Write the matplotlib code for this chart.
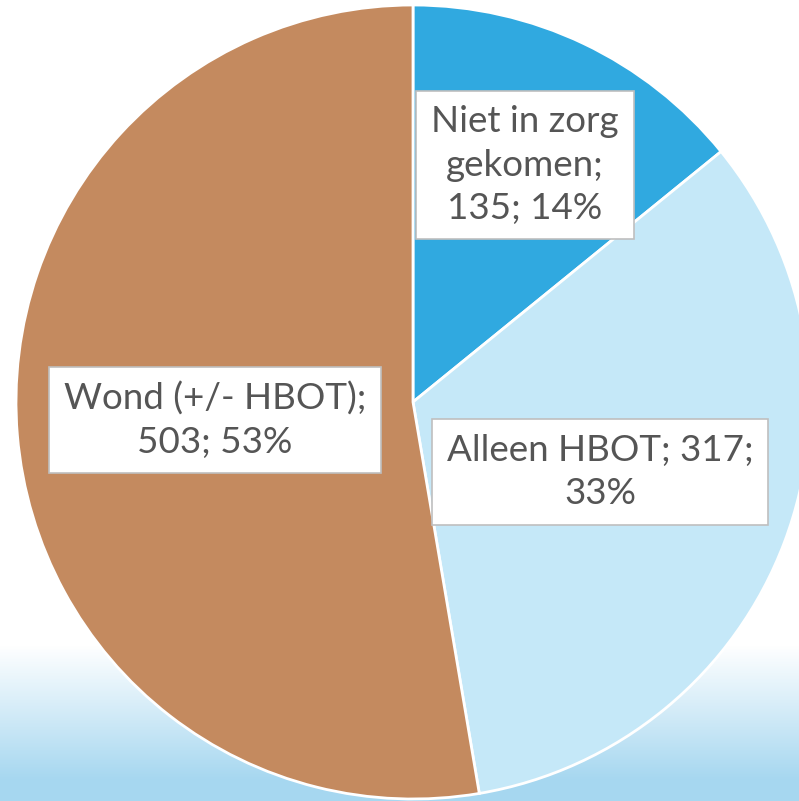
import matplotlib
matplotlib.use("Agg")
import matplotlib.pyplot as plt
import numpy as np
from matplotlib.colors import LinearSegmentedColormap

# data
categories = ["Niet in zorg\ngekomen", "Alleen HBOT", "Wond (+/- HBOT)"]
counts = [135, 317, 503]
percents = [14, 33, 53]
colors = ["#30A9E0", "#C5E8F8", "#C48A5F"]

W, H = 799, 801
fig = plt.figure(figsize=(W / 100, H / 100), dpi=100)
ax = fig.add_axes([0, 0, 1, 1])

# achtergrond: wit met lichtblauw verloop onderaan
grad = np.ones((H, 1))
ys = np.arange(H)  # 0 = onderkant
t = np.clip((155 - ys) / 135, 0, 1)
grad[:, 0] = t
cmap = LinearSegmentedColormap.from_list("bg", ["#FFFFFF", "#A6D7F0"])
ax.imshow(grad, aspect="auto", cmap=cmap, origin="lower",
          extent=[0, W, 0, H], zorder=0, vmin=0, vmax=1)

cx, cy, r = 413, H - 402, 397
wedges, _ = ax.pie(counts, colors=colors, startangle=90, counterclock=False,
                   center=(cx, cy), radius=r, frame=True,
                   wedgeprops=dict(edgecolor="white", linewidth=2))
for w in wedges:
    w.set_zorder(2)

ax.set_xlim(0, W)
ax.set_ylim(0, H)
ax.set_aspect("auto")
ax.axis("off")

# labels
labels = [f"{categories[0]};\n{counts[0]}; {percents[0]}%",
          f"{categories[1]}; {counts[1]};\n{percents[1]}%",
          f"{categories[2]};\n{counts[2]}; {percents[2]}%"]
label_pos = [(525, H - 165), (600, H - 472), (215, H - 420)]
for txt, (x, y) in zip(labels, label_pos):
    ax.text(x, y, txt, ha="center", va="center", fontsize=26.5,
            family="Lato", color="#555555", linespacing=1.38, zorder=5,
            bbox=dict(boxstyle="square,pad=0.4", facecolor="white",
                      edgecolor="#BFBFBF", linewidth=1.2))

fig.savefig("out.png", dpi=100)
